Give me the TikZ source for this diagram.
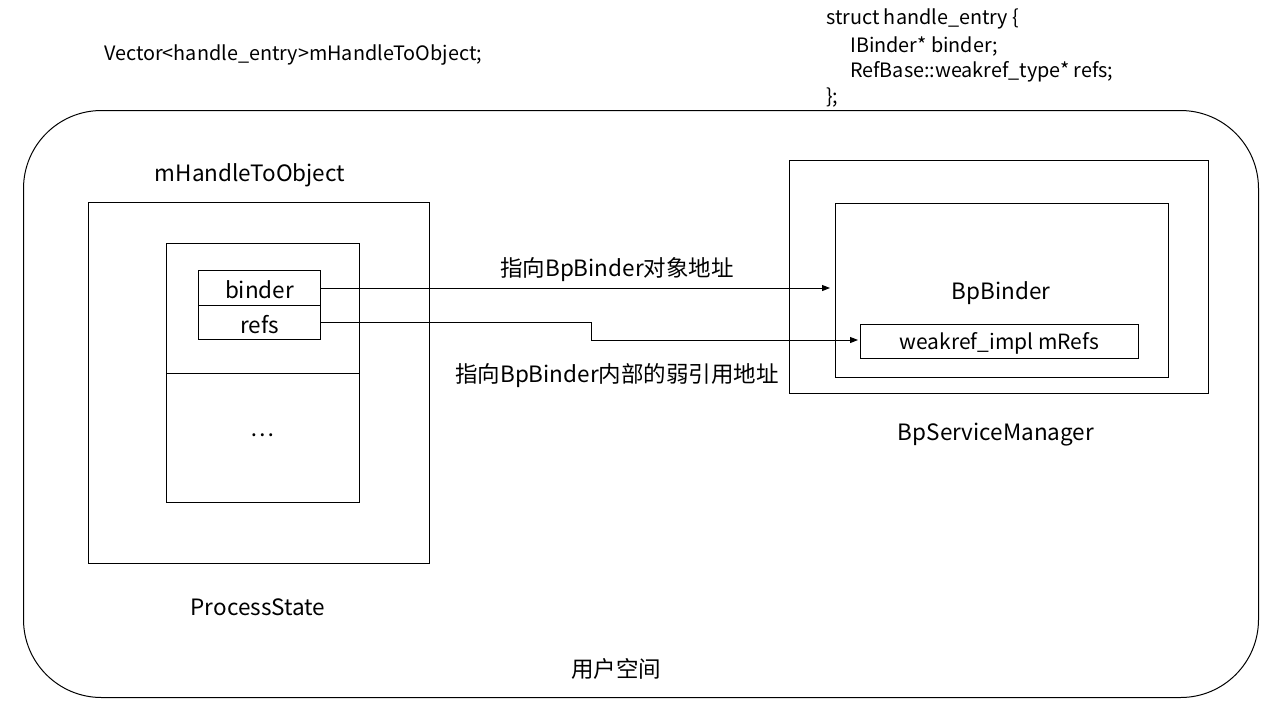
\documentclass[tikz,border=0pt]{standalone}
\usepackage{fontspec}
\setmainfont{Noto Sans CJK SC}
\usetikzlibrary{arrows.meta,calc}
\begin{document}
\begin{tikzpicture}[x=1pt,y=-1pt,
  box/.style={draw=black,line width=1pt,rectangle,inner sep=0pt,anchor=north west},
  lbl/.style={font=\fontsize{22.5}{26}\selectfont,inner sep=0pt,yshift=-2pt},
  small/.style={font=\fontsize{19.8}{24}\selectfont,inner sep=0pt,yshift=-1pt},
  arr/.style={line width=1pt,-{Triangle[length=8pt,width=6pt]}}]
\useasboundingbox (0,0) rectangle (1267,713);
% outer user space
\node[box,rounded corners=78pt,minimum width=1235pt,minimum height=587pt] (user) at (23,110) {};
\node[lbl] (usertxt) at (616,667) {用户空间};
% top texts
\node[small,anchor=west] (vec) at (104,54) {Vector<handle\_entry>mHandleToObject;};
\node[small,anchor=west] (s1) at (826,18) {struct handle\_entry \{};
\node[small,anchor=west] (s2) at (850,45) {IBinder* binder;};
\node[small,anchor=west] (s3) at (850,71) {RefBase::weakref\_type* refs;};
\node[small,anchor=west] (s4) at (826,97) {\};};
% ProcessState
\node[box,minimum width=341pt,minimum height=361pt] (ps) at (88,202) {};
\node[lbl] (pstxt) at (258,605) {ProcessState};
\node[lbl] (hto) at (250,173) {mHandleToObject};
\node[box,minimum width=193pt,minimum height=130pt] (vtop) at (166,243) {};
\node[box,minimum width=193pt,minimum height=129pt] (vbot) at (166,373) {};
\node[lbl] (dots) at (262,433) {…};
\node[box,minimum width=122pt,minimum height=35pt] (binder) at (198,270) {};
\node[lbl] at (binder.center) {binder};
\node[box,minimum width=122pt,minimum height=34pt] (refs) at (198,305) {};
\node[lbl] at (refs.center) {refs};
% BpServiceManager
\node[box,minimum width=419pt,minimum height=233pt] (bsm) at (789,160) {};
\node[lbl] (bsmtxt) at (996,433) {BpServiceManager};
\node[box,minimum width=333pt,minimum height=174pt] (bpb) at (835,203) {};
\node[lbl] (bpbtxt) at (1001,291) {BpBinder};
\node[box,minimum width=278pt,minimum height=34pt] (weak) at (860,324) {};
\node[lbl,font=\fontsize{21}{25}\selectfont] at (weak.center) {weakref\_impl mRefs};
% connectors
\draw[arr,shorten >=5pt] (binder.east) -- (binder.east -| bpb.west);
\coordinate (k) at (591,340);
\draw[arr,shorten >=2pt] (refs.east) -- (refs.east -| k) -- (k) -- (k -| weak.west);
\node[lbl] (l1) at (617,268) {指向BpBinder对象地址};
\node[lbl] (l2) at (617,374) {指向BpBinder内部的弱引用地址};
\end{tikzpicture}
\end{document}
